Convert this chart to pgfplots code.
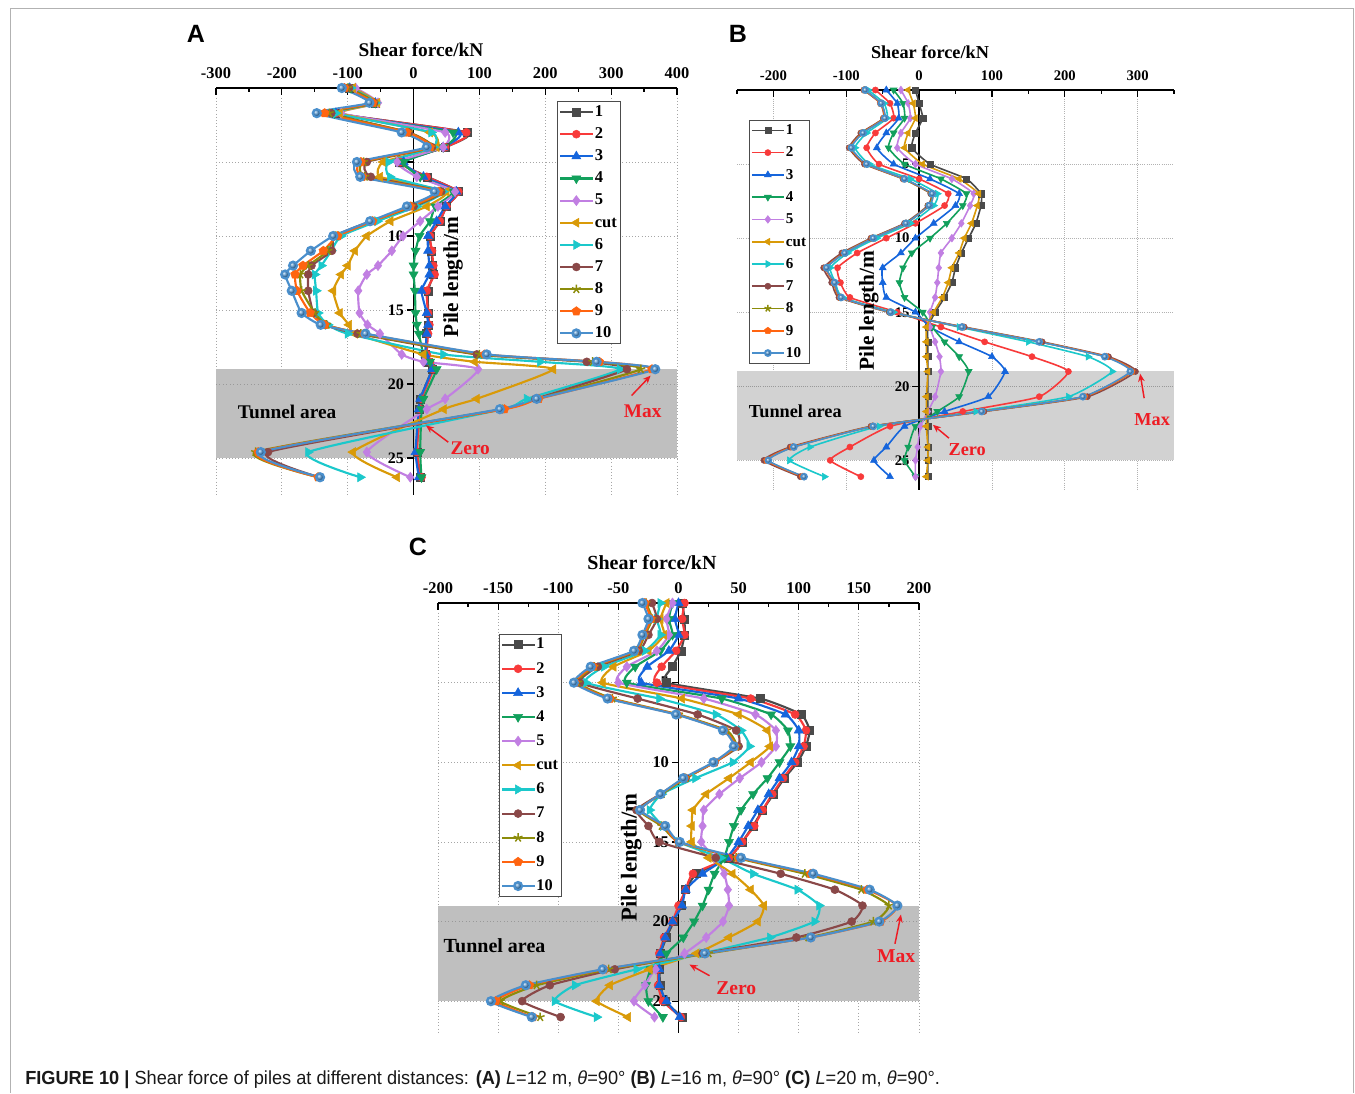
\documentclass[border=0pt]{standalone}
\usepackage{graphicx}
\usepackage{pgfplots}
\pgfplotsset{compat=1.18}
\usepackage{pgfplotstable}
\usepackage{fontspec}
\setmainfont{Liberation Serif}
\newfontfamily\capfont{Liberation Sans}
\usetikzlibrary{plotmarks,arrows.meta}

\definecolor{c1}{HTML}{4A4A4A}
\definecolor{c2}{HTML}{F83A3A}
\definecolor{c3}{HTML}{1565DC}
\definecolor{c4}{HTML}{12A05C}
\definecolor{c5}{HTML}{C17FE2}
\definecolor{ccut}{HTML}{D99A08}
\definecolor{c6}{HTML}{1BC8CB}
\definecolor{c7}{HTML}{8A4848}
\definecolor{c8}{HTML}{8C8C0A}
\definecolor{c9}{HTML}{FF6410}
\definecolor{c10}{HTML}{4A8FCC}
\definecolor{zred}{HTML}{EE1C24}

\pgfplotstableread{
d s1 s2 s3 s4 s5 cut s6 s7 s8 s9 s10
0 -97 -97 -97 -95 -88 -92 -95 -98 -100 -105 -109
1 -58 -58 -58 -58 -54 -55 -58 -60 -60 -62 -67
1.7 -118 -118 -118 -120 -110 -112 -118 -125 -128 -135 -147
3 82 80 68 60 48 25 27 -7 -8 -10 -18
4 48 48 45 45 45 35 30 28 27 25 20
5 -21 -20 -15 -15 -25 -46 -38 -71 -76 -80 -86
6 21 20 15 10 5 -51 -36 -65 -74 -78 -81
7 68 68 65 60 63 50 45 42 40 38 32
8 50 50 48 33 37 20 5 0 -3 -5 -10
9 40 40 35 25 10 -35 -55 -65 -63 -62 -66
10 25 25 22 9 -16 -71 -110 -120 -118 -115 -122
11 27 28 22 3 -33 -89 -125 -124 -130 -137 -156
12 29 30 24 0 -54 -100 -140 -155 -160 -168 -183
12.6 30 32 24 0 -71 -110 -150 -160 -172 -180 -195
13.7 22 20 12 2 -84 -122 -148 -160 -170 -177 -185
15.2 22 22 20 3 -82 -112 -145 -152 -150 -157 -170
16 22 24 22 5 -70 -98 -130 -135 -132 -135 -141
16.6 20 22 20 8 -51 -89 -100 -85 -80 -75 -73
18 18 20 18 15 -18 15 45 96 100 108 111
18.5 22 25 22 25 15 93 192 263 272 282 278
19 28 30 28 35 98 212 313 324 345 362 367
21 10 12 10 15 48 96 172 185 188 190 187
21.7 8 10 8 12 20 46 135 135 135 138 131
24.6 5 5 3 10 -71 -92 -160 -221 -240 -236 -232
26.3 10 12 8 12 -5 -25 -81 -143 -145 -145 -142
}\tabA

\pgfplotstableread{
d s1 s2 s3 s4 s5 cut s6 s7 s8 s9 s10
0 -5 -60 -45 -35 -25 -15 -70 -76 -75 -75 -74
0.9 0 -40 -30 -22 -15 -8 -48 -53 -52 -53 -52
1.9 5 -35 -28 -20 -12 -5 -44 -49 -48 -48 -47
2.9 -5 -60 -45 -35 -25 -15 -72 -80 -78 -78 -77
3.9 -10 -72 -58 -42 -30 -20 -88 -96 -94 -94 -93
5 15 -55 -35 -20 -5 5 -68 -75 -73 -73 -72
6 65 0 15 30 45 55 -12 -22 -21 -21 -20
7 85 40 55 65 75 82 25 16 17 18 18
7.8 85 35 50 60 70 80 20 12 13 14 14
9 78 -5 20 38 58 72 -12 -20 -18 -18 -18
10 68 -45 -5 15 45 62 -58 -66 -64 -64 -63
11 58 -85 -25 -10 30 55 -98 -106 -103 -103 -102
12 50 -112 -50 -22 27 45 -122 -131 -127 -128 -127
13 45 -108 -50 -27 25 40 -115 -120 -117 -117 -116
14 35 -95 -45 -20 22 32 -105 -110 -108 -108 -107
15 22 -30 -5 5 15 20 -35 -41 -40 -39 -39
16 12 30 15 18 15 10 55 62 59 60 59
17 12 90 55 35 22 10 150 169 166 166 165
18 12 155 100 55 28 10 232 260 256 257 255
19 12 205 118 68 30 12 265 297 292 292 290
20.7 12 165 95 55 22 10 205 231 226 227 225
21.7 12 60 35 25 12 10 78 89 86 87 86
22.7 12 -40 -20 -5 2 10 -55 -66 -64 -64 -63
24.1 12 -95 -45 -15 -2 12 -150 -177 -173 -174 -172
25 12 -122 -62 -20 -5 12 -178 -213 -208 -209 -207
26.1 12 -80 -40 -5 -5 10 -130 -163 -159 -160 -158
}\tabB

\pgfplotstableread{
d s1 s2 s3 s4 s5 cut s6 s7 s8 s9 s10
0 3 5 0 -5 -5 -10 -15 -22 -27 -28 -30
1 5 3 -3 -8 -10 -15 -18 -18 -22 -23 -25
2 5 5 0 -5 -8 -12 -15 -25 -28 -29 -30
3 2 -2 -8 -15 -18 -25 -28 -33 -35 -36 -37
4 -5 -14 -26 -36 -43 -54 -62 -67 -70 -71 -73
5 -10 -18 -31 -43 -50 -63 -77 -82 -84 -86 -87
6 68 60 50 36 21 3 -16 -34 -55 -57 -59
7 102 97 89 77 64 50 31 16 0 -1 -2
8 109 106 100 91 81 74 52 48 40 38 37
9 106 104 100 93 81 76 59 50 48 47 46
10 99 97 94 84 69 60 45 30 30 30 29
11 88 87 84 74 51 42 14 6 6 5 4
12 79 78 75 62 34 23 -14 -15 -14 -15 -15
13 70 70 66 52 21 12 -24 -35 -33 -32 -32
14 62 63 58 46 20 11 -13 -25 -14 -12 -11
15 53 53 50 42 19 11 0 -16 0 0 1
16 42 42 40 38 30 25 35 31 48 50 52
17 15 12 20 30 38 45 62 85 105 110 112
18 6 6 6 25 41 60 99 130 152 157 159
19 2 0 3 20 42 71 117 153 175 182 182
20 -4 -5 -5 13 37 66 113 144 162 168 167
21 -10 -12 -11 4 23 42 76 98 108 110 110
22 -15 -16 -15 -10 5 15 20 20 25 22 22
23 -16 -17 -16 -23 -19 -24 -35 -53 -58 -62 -63
24 -15 -17 -16 -27 -28 -57 -86 -107 -118 -124 -127
25 -11 -13 -10 -25 -37 -68 -103 -130 -148 -152 -156
26 3 2 1 -13 -20 -42 -68 -98 -115 -121 -122
}\tabC

\tikzset{ann/.style={font=\bfseries\fontsize{14.5}{15}\selectfont}}

\pgfplotsset{
 p1/.style={color=c1, mark=square*, mark options={solid,line width=0.4pt}},
 p2/.style={color=c2, mark=*, mark options={solid,line width=0.4pt}},
 p3/.style={color=c3, mark=triangle*, mark options={solid,line width=0.4pt,scale=1.3}},
 p4/.style={color=c4, mark=triangle*, mark options={solid,line width=0.4pt,rotate=180,scale=1.3}},
 p5/.style={color=c5, mark=diamond*, mark options={solid,line width=0.4pt,scale=1.25}},
 pcut/.style={color=ccut, mark=triangle*, mark options={solid,line width=0.4pt,rotate=90,scale=1.3}},
 p6/.style={color=c6, mark=triangle*, mark options={solid,line width=0.4pt,rotate=-90,scale=1.3}},
 p7/.style={color=c7, mark=*, mark options={solid,line width=0.4pt}},
 p8/.style={color=c8, mark=star, mark options={solid,line width=1.1pt,scale=1.15}},
 p9/.style={color=c9, mark=pentagon*, mark options={solid,line width=0.4pt,scale=1.15}},
 p10/.style={color=c10, mark=ball, mark options={solid,ball color=c10}},
 panel/.style={
  scale only axis, clip=false,
  axis x line=top, axis y line=left,
  x axis line style={-, line width=1.1pt, black},
  y axis line style={draw=none},
  y dir=reverse, ymin=0,
  ytick={5,10,15,20,25}, yticklabels={},
  ytick style={draw=none},
  grid=major, grid style={dotted, gray!70, line width=0.6pt},
  tick align=inside, major tick length=5.5pt, minor tick length=3pt,
  xtick style={black, line width=0.9pt},
  xticklabel shift=3.5pt,
  /pgf/number format/assume math mode=true,
  legend cell align=left,
  legend image code/.code={\draw[mark repeat=2,mark phase=2,##1] plot coordinates {(0pt,0pt)(12pt,0pt)(24pt,0pt)};},
  legend style={draw=black!70, line width=0.6pt, fill=white, anchor=north west, inner sep=1.5pt,
    nodes={inner sep=1pt, text height=8.5pt, text depth=2pt, black}},
  every axis plot/.append style={smooth, tension=0.3},
 },
}

\newcommand{\allplots}[1]{%
 \addplot[p1] table[x=s1,y=d]{#1}; \addlegendentry{1}
 \addplot[p2] table[x=s2,y=d]{#1}; \addlegendentry{2}
 \addplot[p3] table[x=s3,y=d]{#1}; \addlegendentry{3}
 \addplot[p4] table[x=s4,y=d]{#1}; \addlegendentry{4}
 \addplot[p5] table[x=s5,y=d]{#1}; \addlegendentry{5}
 \addplot[pcut] table[x=cut,y=d]{#1}; \addlegendentry{cut}
 \addplot[p6] table[x=s6,y=d]{#1}; \addlegendentry{6}
 \addplot[p7] table[x=s7,y=d]{#1}; \addlegendentry{7}
 \addplot[p8] table[x=s8,y=d]{#1}; \addlegendentry{8}
 \addplot[p9] table[x=s9,y=d]{#1}; \addlegendentry{9}
 \addplot[p10] table[x=s10,y=d]{#1}; \addlegendentry{10}
}
% y axis at x=0: #1 ymax, #2 font
\newcommand{\yaxis}[2]{%
 \draw[black, line width=1.3pt] (axis cs:0,0) -- (axis cs:0,#1);
 \draw[black, line width=0.9pt] (axis cs:0,5) -- ++(-5pt,0pt);
 \draw[black, line width=0.9pt] (axis cs:0,10) -- ++(-5pt,0pt);
 \draw[black, line width=0.9pt] (axis cs:0,15) -- ++(-5pt,0pt);
 \draw[black, line width=0.9pt] (axis cs:0,20) -- ++(-5pt,0pt);
 \draw[black, line width=0.9pt] (axis cs:0,25) -- ++(-5pt,0pt);
 \node[anchor=east, inner sep=1pt, font=#2] at ([xshift=-6pt]axis cs:0,5) {5};
 \node[anchor=east, inner sep=1pt, font=#2] at ([xshift=-6pt]axis cs:0,10) {10};
 \node[anchor=east, inner sep=1pt, font=#2] at ([xshift=-6pt]axis cs:0,15) {15};
 \node[anchor=east, inner sep=1pt, font=#2] at ([xshift=-6pt]axis cs:0,20) {20};
 \node[anchor=east, inner sep=1pt, font=#2] at ([xshift=-6pt]axis cs:0,25) {25};
}

\begin{document}
\begin{tikzpicture}
\useasboundingbox (0,0) rectangle (1016.25pt,-819.75pt);
\fill[white] (0,0) rectangle (1016.25pt,-819.75pt);
\draw[gray!60, line width=0.75pt] (7.5pt,-819.75pt) -- (7.5pt,-6pt) -- (1014.75pt,-6pt) -- (1014.75pt,-819.75pt);

% ---------- Panel A ----------
\begin{axis}[panel, at={(162pt,-66pt)}, anchor=north west, width=345.75pt, height=305.25pt,
  xmin=-300, xmax=400, ymax=27.5, xtick={-300,-200,...,400}, minor x tick num=1,
  xticklabel style={font=\bfseries\fontsize{12.3}{13}\selectfont},
  every axis plot/.append style={line width=1.6pt, mark size=3pt},
  legend style={at={(axis cs:217.6,0.9)}, font=\bfseries\fontsize{12.4}{13}\selectfont, row sep=4.1pt}]
\fill[gray!50] (axis cs:-300,19) rectangle (axis cs:400,25);
\draw[dotted, gray!80, line width=0.6pt] (axis cs:-300,20) -- (axis cs:400,20);
\yaxis{27.5}{\bfseries\fontsize{12}{12}\selectfont}
\allplots{\tabA}
\node[ann] at (axis cs:-192,21.86) {Tunnel area};
\node[ann, text=zred] at (axis cs:348,21.86) {Max};
\draw[-{Stealth[length=6pt,width=5pt]}, zred, line width=1.1pt] (axis cs:331,20.78) -- (axis cs:360,19.43);
\node[ann, text=zred] at (axis cs:86,24.35) {Zero};
\draw[-{Stealth[length=6pt,width=5pt]}, zred, line width=1.1pt] (axis cs:52.7,23.93) -- (axis cs:18.8,22.8);
\node[rotate=90, font=\bfseries\fontsize{16}{16}\selectfont] at (axis cs:60,12.76) {Pile length/m};
\end{axis}

% ---------- Panel B ----------
\begin{axis}[panel, at={(552.75pt,-67.5pt)}, anchor=north west, width=327.75pt, height=300pt,
  xmin=-250, xmax=350, ymax=27, xtick={-200,-100,...,300}, minor xtick={-250,-150,...,350},
  xticklabel style={font=\bfseries\fontsize{11}{12}\selectfont},
  grid style={densely dotted, gray!60, line width=0.6pt},
  every axis plot/.append style={line width=1.2pt, mark size=2.3pt},
  legend style={at={(axis cs:-234,2.0)}, font=\bfseries\fontsize{11.3}{12}\selectfont, row sep=4.2pt}]
\fill[gray!35] (axis cs:-250,19) rectangle (axis cs:350,25);
\draw[densely dotted, gray!80, line width=0.6pt] (axis cs:-250,20) -- (axis cs:350,20);
\yaxis{27}{\bfseries\fontsize{11}{12}\selectfont}
\allplots{\tabB}
\node[font=\bfseries\fontsize{13.7}{14}\selectfont] at (axis cs:-170,21.7) {Tunnel area};
\node[text=zred, font=\bfseries\fontsize{13.7}{14}\selectfont] at (axis cs:320,22.25) {Max};
\draw[-{Stealth[length=6pt,width=5pt]}, zred, line width=1.1pt] (axis cs:309,20.8) -- (axis cs:303.5,19.15);
\node[text=zred, font=\bfseries\fontsize{13.7}{14}\selectfont] at (axis cs:66,24.27) {Zero};
\draw[-{Stealth[length=6pt,width=5pt]}, zred, line width=1.1pt] (axis cs:41,23.5) -- (axis cs:19,22.6);
\node[rotate=90, font=\bfseries\fontsize{16}{16}\selectfont] at (axis cs:-69,14.9) {Pile length/m};
\end{axis}

% ---------- Panel C ----------
\begin{axis}[panel, at={(328.5pt,-452.25pt)}, anchor=north west, width=360.75pt, height=322.5pt,
  xmin=-200, xmax=200, ymax=27, xtick={-200,-150,...,200}, minor x tick num=1,
  xticklabel style={font=\bfseries\fontsize{12.3}{13}\selectfont},
  every axis plot/.append style={line width=1.6pt, mark size=3pt},
  legend style={at={(axis cs:-149.6,1.94)}, font=\bfseries\fontsize{12.2}{13}\selectfont, row sep=5.6pt}]
\fill[gray!50] (axis cs:-200,19) rectangle (axis cs:200,25);
\draw[dotted, gray!80, line width=0.6pt] (axis cs:-200,20) -- (axis cs:200,20);
\yaxis{27}{\bfseries\fontsize{12.3}{13}\selectfont}
\allplots{\tabC}
\node[font=\bfseries\fontsize{15}{15}\selectfont] at (axis cs:-153,21.5) {Tunnel area};
\node[text=zred, font=\bfseries\fontsize{14.7}{15}\selectfont] at (axis cs:181,22.2) {Max};
\draw[-{Stealth[length=6pt,width=5pt]}, zred, line width=1.1pt] (axis cs:180,21.4) -- (axis cs:185,19.56);
\node[text=zred, font=\bfseries\fontsize{14.7}{15}\selectfont] at (axis cs:48,24.2) {Zero};
\draw[-{Stealth[length=6pt,width=5pt]}, zred, line width=1.1pt] (axis cs:25.8,23.4) -- (axis cs:9.1,22.7);
\node[rotate=90, font=\bfseries\fontsize{17}{17}\selectfont] at (axis cs:-39.3,15.97) {Pile length/m};
\end{axis}

% ---------- titles ----------
\node[font=\capfont\bfseries\fontsize{18.75}{19}\selectfont] at (147pt,-25.5pt) {A};
\node[font=\capfont\bfseries\fontsize{18.75}{19}\selectfont] at (553.5pt,-25.5pt) {B};
\node[font=\capfont\bfseries\fontsize{18.75}{19}\selectfont] at (313.5pt,-410.25pt) {C};
\node[font=\bfseries\fontsize{14.5}{15}\selectfont] at (315.75pt,-37.5pt) {Shear force/kN};
\node[font=\bfseries\fontsize{13.7}{14}\selectfont] at (697.5pt,-39pt) {Shear force/kN};
\node[font=\bfseries\fontsize{15}{15}\selectfont] at (489pt,-422.25pt) {Shear force/kN};

\node[anchor=base west, inner sep=0pt, text=black!90] at (18.75pt,-813pt) {\resizebox{686pt}{10.3pt}{\capfont\fontsize{13.6}{14}\selectfont\textbf{FIGURE 10 |} Shear force of piles at different distances: \textbf{(A)} \textit{L}=12 m, \textit{θ}=90° \textbf{(B)} \textit{L}=16 m, \textit{θ}=90° \textbf{(C)} \textit{L}=20 m, \textit{θ}=90°.}};
\end{tikzpicture}
\end{document}
